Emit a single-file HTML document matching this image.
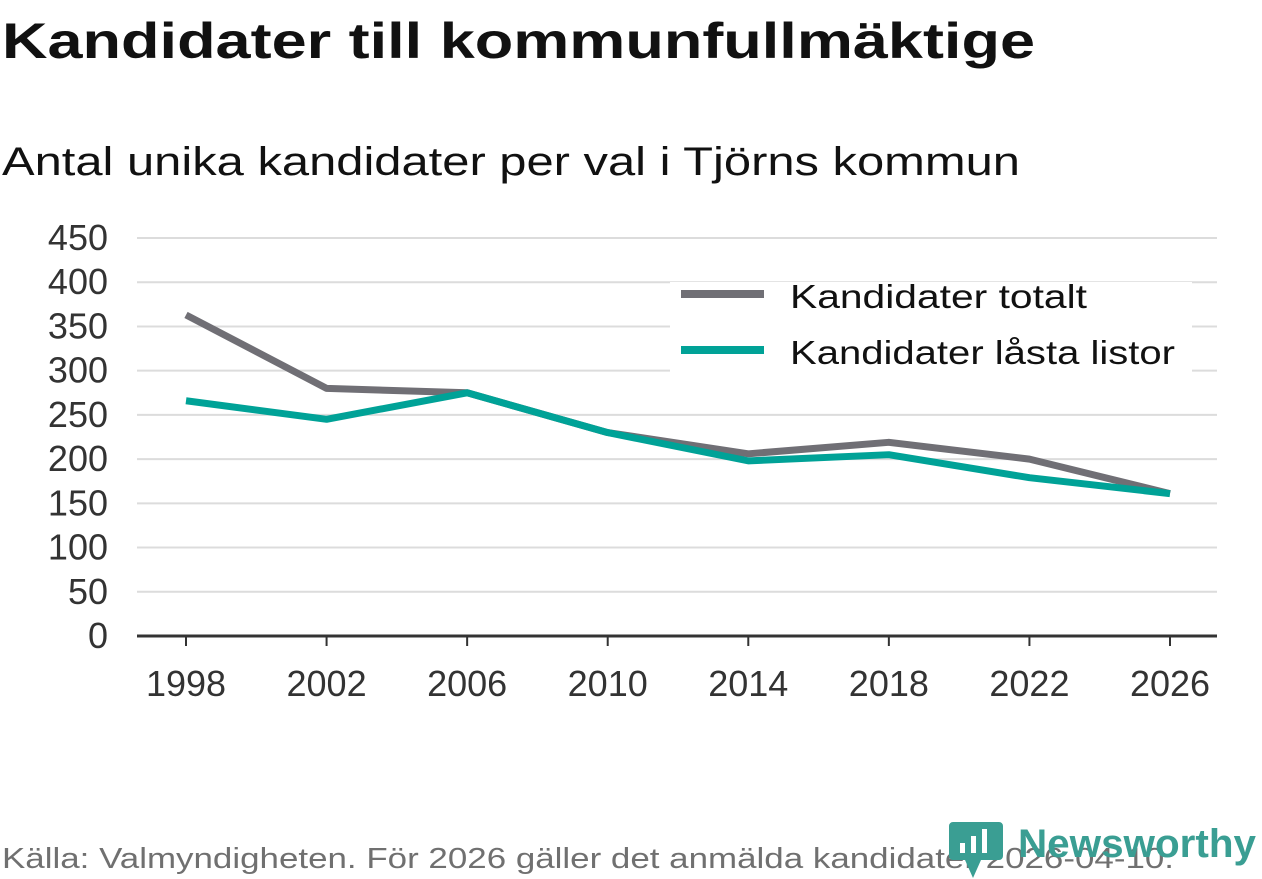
<!DOCTYPE html>
<html><head><meta charset="utf-8"><style>
html,body{margin:0;padding:0;background:#fff;}
svg{display:block;font-family:"Liberation Sans","DejaVu Sans",sans-serif;}
</style></head><body>
<svg id="chart" width="1262" height="879" viewBox="0 0 1262 879" xmlns="http://www.w3.org/2000/svg">
<text x="2" y="58" font-size="50" font-weight="bold" fill="#111" textLength="1033" lengthAdjust="spacingAndGlyphs">Kandidater till kommunfullmäktige</text>
<text x="2" y="175" font-size="40" fill="#111" textLength="1018" lengthAdjust="spacingAndGlyphs">Antal unika kandidater per val i Tjörns kommun</text>
<g id="grid"></g>
<g id="yticks"></g>
<g id="xticks"></g>
<g id="lines"></g>
<g>
<rect x="670" y="282" width="522" height="90" fill="#fff"/>
<line x1="681" y1="294" x2="764" y2="294" stroke="#706f75" stroke-width="8"/>
<text x="790" y="308" font-size="33" fill="#111" textLength="297" lengthAdjust="spacingAndGlyphs">Kandidater totalt</text>
<line x1="681" y1="350" x2="764" y2="350" stroke="#00a297" stroke-width="8"/>
<text x="790" y="364" font-size="33" fill="#111" textLength="385" lengthAdjust="spacingAndGlyphs">Kandidater låsta listor</text>
</g>
<text x="2" y="868" font-size="29" fill="#707070" textLength="1172" lengthAdjust="spacingAndGlyphs">Källa: Valmyndigheten. För 2026 gäller det anmälda kandidater 2026-04-10.</text>
<g>
<path d="M953 822 h46 a4 4 0 0 1 4 4 v30 a4 4 0 0 1 -4 4 h-18 l-8 18 l-8 -18 h-12 a4 4 0 0 1 -4 -4 v-30 a4 4 0 0 1 4 -4z" fill="#3a9e93"/>
<rect x="960" y="843" width="5" height="10" fill="#fff"/>
<rect x="971" y="836" width="5" height="17" fill="#fff"/>
<rect x="982" y="829" width="5" height="24" fill="#fff"/>
<text x="1018" y="857" font-size="40" font-weight="bold" fill="#3a9e93" textLength="238" lengthAdjust="spacingAndGlyphs">Newsworthy</text>
</g>
</svg>
<script>
const years = [1998, 2002, 2006, 2010, 2014, 2018, 2022, 2026];
const totalt = [363, 280, 275, 230, 206, 219, 200, 161];
const lasta = [266, 245, 275, 230, 198, 205, 179, 161];
const yTicks = [0, 50, 100, 150, 200, 250, 300, 350, 400, 450];

const NS = "http://www.w3.org/2000/svg";
const x = v => 186 + (v - 1998) / 28 * (1170 - 186);
const y = v => 636 - v / 450 * (636 - 238);
function mk(tag, attrs, parent) {
  const e = document.createElementNS(NS, tag);
  for (const k in attrs) e.setAttribute(k, attrs[k]);
  parent.appendChild(e);
  return e;
}
const grid = document.getElementById('grid');
const yt = document.getElementById('yticks');
const xt = document.getElementById('xticks');
const lines = document.getElementById('lines');
yTicks.forEach(t => {
  if (t > 0) {
    const g = mk('line', {x1: 137, x2: 1217, y1: y(t), y2: y(t), stroke: '#dcdcdc', 'stroke-width': 2}, grid);
    
    
  }
  const l = mk('text', {x: 108, y: y(t) + 12, 'font-size': 36, fill: '#333', 'text-anchor': 'end'}, yt);
  l.textContent = t;
  
  
});
const ax = mk('line', {x1: 137, x2: 1217, y1: 636, y2: 636, stroke: '#333', 'stroke-width': 3}, xt);


years.forEach(v => {
  const tk = mk('line', {x1: x(v), x2: x(v), y1: 636, y2: 646, stroke: '#333', 'stroke-width': 2}, xt);
  
  
  const l = mk('text', {x: x(v), y: 696, 'font-size': 36, fill: '#333', 'text-anchor': 'middle'}, xt);
  l.textContent = v;
  
  
});
function series(vals, color, name) {
  const d = vals.map((v, i) => (i ? 'L' : 'M') + x(years[i]) + ' ' + y(v)).join(' ');
  const p = mk('path', {d: d, fill: 'none', stroke: color, 'stroke-width': 7, 'stroke-linejoin': 'round'}, lines);
  
  
}
series(totalt, '#706f75', 'line-kandidater-totalt');
series(lasta, '#00a297', 'line-kandidater-lasta-listor');
</script>
</body></html>
